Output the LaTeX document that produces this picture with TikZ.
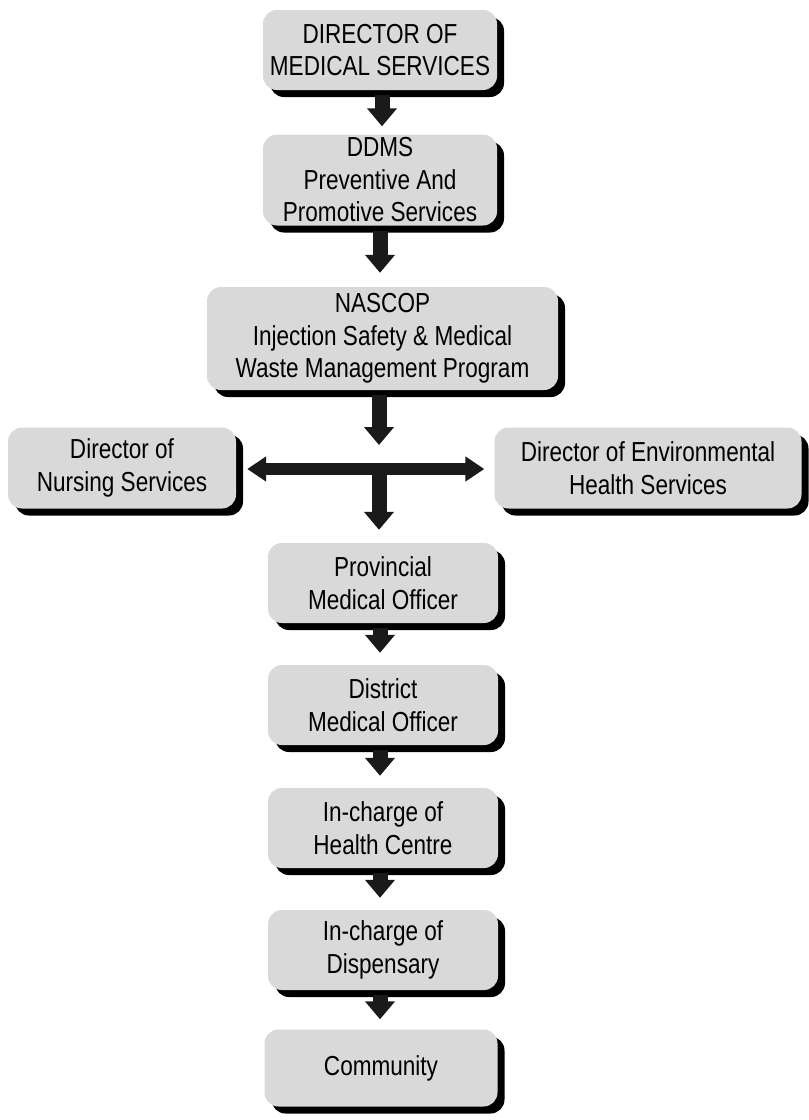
\documentclass[tikz,border=0pt]{standalone}
\usepackage{fontspec}
\setmainfont{Liberation Sans}[FakeStretch=0.82]
\usetikzlibrary{shadows,arrows.meta}
\definecolor{boxgray}{RGB}{217,217,217}
\definecolor{arrowblack}{RGB}{26,26,26}
\begin{document}
\begin{tikzpicture}[x=1pt,y=-1pt,
  orgbox/.style={rectangle, rounded corners=14pt, fill=boxgray, align=center,
    inner sep=2pt, font=\fontsize{27.5}{32.5}\selectfont,
    drop shadow={shadow xshift=7pt, shadow yshift=-7pt, fill=black, opacity=1}},
  downarrow/.style={draw=arrowblack, line width=15pt,
    -{Triangle[width=29pt,length=18pt,fill=arrowblack]}},
  bothways/.style={draw=arrowblack, line width=12pt,
    {Triangle[width=24pt,length=19pt,fill=arrowblack]}-{Triangle[width=24pt,length=19pt,fill=arrowblack]}}]
\useasboundingbox (0,0) rectangle (809,1120);
\node[orgbox, minimum width=234pt, minimum height=80pt] (dms) at (380,50) {DIRECTOR OF\\MEDICAL SERVICES};
\node[orgbox, minimum width=234pt, minimum height=91pt] (ddms) at (380,180) {DDMS\\Preventive And\\Promotive Services};
\node[orgbox, minimum width=351pt, minimum height=103pt] (nascop) at (382.5,338.5) {NASCOP\\Injection Safety \& Medical\\Waste Management Program};
\node[orgbox, minimum width=228pt, minimum height=81pt] (nursing) at (122,468) {Director of\\Nursing Services};
\node[orgbox, minimum width=307pt, minimum height=81pt] (env) at (648,468) {Director of Environmental\\Health Services};
\node[orgbox, minimum width=230pt, minimum height=80pt] (prov) at (383,583) {Provincial\\Medical Officer};
\node[orgbox, minimum width=230pt, minimum height=80pt] (dist) at (383,705) {District\\Medical Officer};
\node[orgbox, minimum width=230pt, minimum height=80pt] (hc) at (383,828) {In-charge of\\Health Centre};
\node[orgbox, minimum width=230pt, minimum height=80pt] (disp) at (383,950) {In-charge of\\Dispensary};
\node[orgbox, minimum width=233pt, minimum height=77pt] (comm) at (381,1068) {Community};
\coordinate (j) at (379,469);
\draw[downarrow, shorten <=5pt, shorten >=8pt] (dms.south -| 382,0) -- (ddms.north -| 382,0);
\draw[downarrow, shorten <=5pt, shorten >=14pt] (ddms.south -| 380,0) -- (nascop.north -| 380,0);
\draw[downarrow, shorten <=5pt, shorten >=24pt] (nascop.south -| j) -- (j);
\draw[bothways, shorten <=11pt, shorten >=10pt] (nursing.east |- j) -- (env.west |- j);
\draw[downarrow, shorten >=13pt] (j) -- (prov.north -| j);
\draw[downarrow, shorten <=5pt, shorten >=12pt] (prov.south -| 380,0) -- (dist.north -| 380,0);
\draw[downarrow, shorten <=5pt, shorten >=12pt] (dist.south -| 380,0) -- (hc.north -| 380,0);
\draw[downarrow, shorten <=5pt, shorten >=12pt] (hc.south -| 380,0) -- (disp.north -| 380,0);
\draw[downarrow, shorten <=5pt, shorten >=10pt] (disp.south -| 380,0) -- (comm.north -| 380,0);
\end{tikzpicture}
\end{document}
